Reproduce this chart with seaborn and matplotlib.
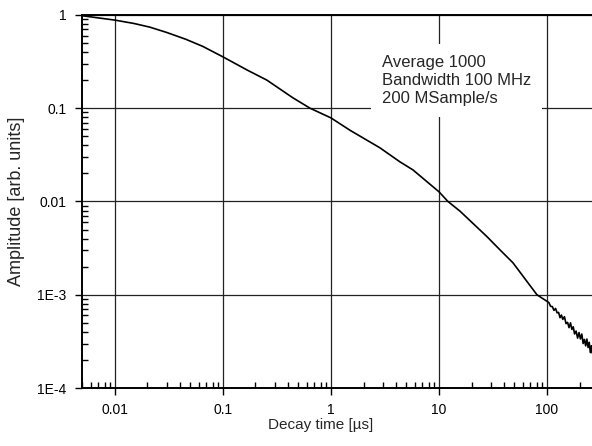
import pandas as pd
import seaborn as sns
import matplotlib.pyplot as plt
from matplotlib.ticker import LogLocator, NullFormatter

# decay curve (time in us, amplitude arb. units)
decay_t = [0.005, 0.007, 0.01, 0.015, 0.021, 0.03, 0.045, 0.065, 0.1, 0.167,
           0.255, 0.445, 0.64, 1.0, 1.5, 2.84, 4.35, 5.74, 10, 12.1, 15.6,
           27.8, 37, 48.4, 80.7]
decay_amp = [0.98, 0.93, 0.88, 0.81, 0.74, 0.65, 0.55, 0.46, 0.355, 0.257,
             0.20, 0.129, 0.10, 0.0787, 0.058, 0.0376, 0.0266, 0.0218, 0.0127,
             0.0100, 0.0079, 0.0042, 0.0030, 0.0022, 0.00100]

# noisy tail beyond 100 us
tail_t = [100, 104, 108, 112, 116, 120, 124, 128, 132, 136, 140, 145, 150,
          155, 160, 165, 170, 175, 180, 186, 192, 198, 204, 210, 216, 222,
          228, 234, 240, 246, 252, 258, 262]
tail_amp = [8.5e-4, 8.26e-4, 7.51e-4, 7.47e-4, 6.80e-4, 7.13e-4, 6.40e-4,
            6.47e-4, 5.68e-4, 6.06e-4, 5.45e-4, 5.81e-4, 4.90e-4, 5.06e-4,
            4.44e-4, 5.00e-4, 4.25e-4, 4.53e-4, 3.80e-4, 4.08e-4, 3.43e-4,
            3.93e-4, 3.36e-4, 3.79e-4, 3.00e-4, 3.32e-4, 2.83e-4, 3.35e-4,
            2.72e-4, 3.09e-4, 2.40e-4, 2.84e-4, 2.37e-4]

x_ticks = [0.01, 0.1, 1, 10, 100]
x_labels = ["0.01", "0.1", "1", "10", "100"]
y_ticks = [1e-4, 1e-3, 0.01, 0.1, 1]
y_labels = ["1E-4", "1E-3", "0.01", "0.1", "1"]

info = "Average 1000\nBandwidth 100 MHz\n200 MSample/s"

df = pd.DataFrame({"t": decay_t + tail_t, "amp": decay_amp + tail_amp})

sns.set_style("ticks")
plt.rcParams["font.family"] = ["Liberation Sans", "DejaVu Sans"]

fig = plt.figure(figsize=(5.92, 4.46), dpi=100)
ax = fig.add_axes([0.1385, 0.13, 0.8615, 0.8365])

sns.lineplot(data=df, x="t", y="amp", ax=ax, color="black", linewidth=1.2,
             sort=False, estimator=None)

ax.set_xscale("log")
ax.set_yscale("log")
ax.set_xlim(0.00495, 261)
ax.set_ylim(1e-4, 1)

ax.set_xticks(x_ticks)
ax.set_xticklabels(x_labels)
ax.set_yticks(y_ticks)
ax.set_yticklabels(y_labels)
for axis in (ax.xaxis, ax.yaxis):
    axis.set_minor_locator(LogLocator(base=10, subs=range(2, 10), numticks=20))
    axis.set_minor_formatter(NullFormatter())

ax.tick_params(which="major", direction="out", length=5, width=1,
               labelsize=10, pad=6, colors="black")
ax.tick_params(which="minor", direction="in", length=4, width=1, colors="black")

ax.grid(True, which="major", color="#222222", linewidth=0.9)
ax.grid(False, which="minor")

for side in ("left", "bottom", "top"):
    ax.spines[side].set_linewidth(1.4)
    ax.spines[side].set_color("black")
ax.spines["right"].set_visible(False)

ax.set_xlabel("Decay time [\u00b5s]", fontsize=11)
ax.set_ylabel("Amplitude [arb. units]", fontsize=13)
ax.xaxis.set_label_coords(0.467, -0.08)
ax.yaxis.set_label_coords(-0.112, 0.5)

ax.text(0.588, 0.893, info, transform=ax.transAxes, fontsize=12,
        va="top", ha="left", linespacing=1.25,
        bbox=dict(facecolor="white", edgecolor="none", pad=8))

fig.savefig("out.png", dpi=100)
